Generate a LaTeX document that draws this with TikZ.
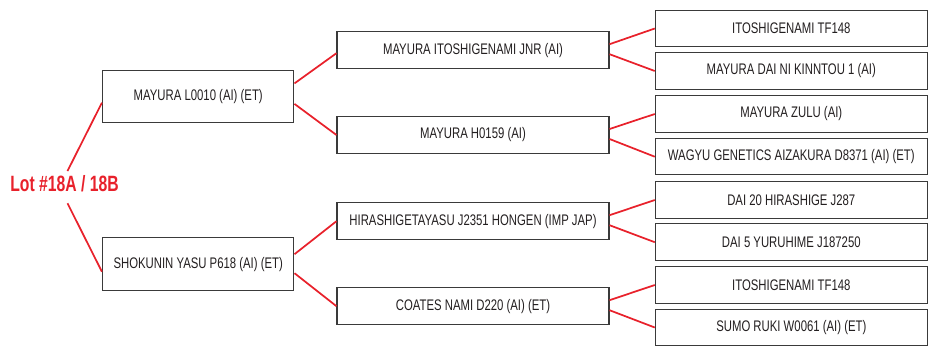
\documentclass[tikz,border=0pt]{standalone}
\usepackage{fontspec}
\usepackage{xcolor}
\usetikzlibrary{calc}
\newfontfamily\pedfont[FakeStretch=0.74]{Liberation Sans}
\newfontfamily\lotfont[FakeStretch=0.71]{Liberation Sans}
\definecolor{pedred}{HTML}{E8212B}
\definecolor{boxline}{HTML}{3A3A3A}
\definecolor{boxtext}{HTML}{231F20}
\tikzset{
  animal/.style={draw=boxline, line width=0.8pt, fill=white, rectangle, inner sep=0pt,
    text=boxtext, font=\pedfont\fontsize{11.5}{13}\selectfont},
  gen1/.style={animal, minimum width=0.75*191.5pt, minimum height=0.75*52.7pt},
  gen2/.style={animal, minimum width=0.75*272pt, minimum height=0.75*37pt},
  gen3/.style={animal, minimum width=0.75*272pt, minimum height=0.75*36.5pt},
  link/.style={draw=pedred, line width=1.3pt}
}
\begin{document}
\begin{tikzpicture}[x=0.75pt,y=0.75pt,yscale=-1,xscale=1]
\useasboundingbox (0,0) rectangle (938,347);

% Text Node
\node (lot) [anchor=base, inner sep=0pt, text=pedred, font=\lotfont\fontsize{16.6}{20}\selectfont\bfseries] at (64.5,191.7) {Lot \#18A / 18B};

%Shape: first generation
\node (sire) [gen1] at (198.2,96.4) {MAYURA L0010 (AI) (ET)};
\node (dam) [gen1] at (198.2,264.2) {SHOKUNIN YASU P618 (AI) (ET)};

%Shape: second generation
\node (ss) [gen2] at (473,50.2) {MAYURA ITOSHIGENAMI JNR (AI)};
\node (sd) [gen2] at (473,135) {MAYURA H0159 (AI)};
\node (ds) [gen2] at (473,221.2) {HIRASHIGETAYASU J2351 HONGEN (IMP JAP)};
\node (dd) [gen2] at (473,306.2) {COATES NAMI D220 (AI) (ET)};

%Shape: third generation
\node (sss) [gen3] at (791.3,28.5) {ITOSHIGENAMI TF148};
\node (ssd) [gen3] at (791.3,71) {MAYURA DAI NI KINNTOU 1 (AI)};
\node (sds) [gen3] at (791.3,114) {MAYURA ZULU (AI)};
\node (sdd) [gen3] at (791.3,156.7) {WAGYU GENETICS AIZAKURA D8371 (AI) (ET)};
\node (dss) [gen3] at (791.3,200) {DAI 20 HIRASHIGE J287};
\node (dsd) [gen3] at (791.3,242.2) {DAI 5 YURUHIME J187250};
\node (dds) [gen3] at (791.3,285) {ITOSHIGENAMI TF148};
\node (ddd) [gen3] at (791.3,327.5) {SUMO RUKI W0061 (AI) (ET)};

% lot to parents
\draw [link] ($(lot.base)+(3,-20.7)$) -- ($(sire.west)+(0,6.3)$);
\draw [link] ($(lot.base)+(3,11.6)$) -- ($(dam.west)+(0,7.5)$);

% parents to grandparents
\draw [link] ($(sire.east)+(0,-13)$) -- ($(ss.west)+(0,3)$);
\draw [link] ($(sire.east)+(0,7.5)$) -- (sd.west);
\draw [link] ($(dam.east)+(0,-10)$) -- (ds.west);
\draw [link] ($(dam.east)+(0,9)$) -- (dd.west);

% grandparents to great grandparents
\draw [link] ($(ss.east)+(0,-6)$) -- (sss.west);
\draw [link] ($(ss.east)+(0,4)$) -- (ssd.west);
\draw [link] ($(sd.east)+(0,-6)$) -- (sds.west);
\draw [link] ($(sd.east)+(0,4)$) -- (sdd.west);
\draw [link] ($(ds.east)+(0,-6)$) -- (dss.west);
\draw [link] ($(ds.east)+(0,4)$) -- (dsd.west);
\draw [link] ($(dd.east)+(0,-6)$) -- (dds.west);
\draw [link] ($(dd.east)+(0,4)$) -- (ddd.west);

\end{tikzpicture}
\end{document}
